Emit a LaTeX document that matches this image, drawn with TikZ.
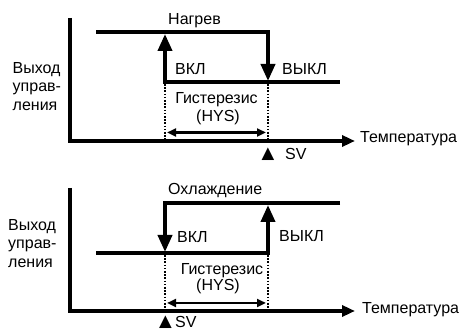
\documentclass[tikz,border=0pt]{standalone}
\usepackage{fontspec}
\setmainfont{Liberation Sans}
\newfontfamily\symfont{DejaVu Sans}
\usetikzlibrary{arrows.meta}
\begin{document}
\begin{tikzpicture}[x=1pt,y=-1pt,
  thickline/.style={line width=3.8pt},
  axisline/.style={line width=3.8pt,line join=miter,-{Triangle[length=13pt,width=11pt]}},
  bigarrow/.style={line width=3.8pt,line join=miter,-{Triangle[length=17pt,width=14pt]}},
  dotline/.style={line width=1.8pt,dash pattern=on 1.6pt off 1.6pt},
  hysarrow/.style={line width=2.4pt,{Triangle[length=9pt,width=8pt]}-{Triangle[length=9pt,width=8pt]}},
  lbl/.style={font=\fontsize{16}{18}\selectfont,inner sep=0pt,anchor=base west},
  clbl/.style={font=\fontsize{16}{18}\selectfont,inner sep=0pt,anchor=base},
  ylbl/.style={font=\fontsize{16}{18.5}\selectfont,inner sep=0pt,anchor=north west,align=left},
  tri/.style={font=\symfont\fontsize{16.5}{16.5}\selectfont,inner sep=0pt,anchor=base},
  ]
\useasboundingbox (0,0) rectangle (459,331);

% ---------- top diagram: heating ----------
\coordinate (yt1) at (70,18);
\coordinate (o1) at (70,141);
\coordinate (xe1) at (355,141);
\draw[axisline] (yt1) -- (o1) -- (xe1);
\node[lbl] (temp1) at (360,143) {Температура};

\coordinate (h1a) at (96,32);
\coordinate (h1b) at (268,32);
\coordinate (h1c) at (268,81);
\draw[bigarrow] (h1a) -- (h1b) -- (h1c);
\coordinate (l1a) at (165,82);
\coordinate (l1b) at (340,82);
\draw[thickline] (l1a) -- (l1b);
\coordinate (u1a) at (165,83.9);
\coordinate (u1b) at (165,34);
\draw[bigarrow] (u1a) -- (u1b);

\coordinate (d1a) at (165,84);
\coordinate (d1b) at (165,140);
\coordinate (d1c) at (268,84);
\coordinate (d1d) at (268,140);
\draw[dotline] (d1a) -- (d1b);
\draw[dotline] (d1c) -- (d1d);
\coordinate (ha1) at (167,132.5);
\coordinate (hb1) at (266,132.5);
\draw[hysarrow] (ha1) -- (hb1);

\node[lbl] (heat) at (168,24.5) {Нагрев};
\node[lbl] (on1) at (175,75) {ВКЛ};
\node[lbl] (off1) at (282,75) {ВЫКЛ};
\node[clbl] (gis1) at (216.5,104) {Гистерезис};
\node[clbl] (hys1) at (218,122) {(HYS)};
\node[ylbl] (out1) at (12.5,62) {Выход\\управ-\\ления};
\node[tri] (tr1) at (268,158.5) {▲};
\node[lbl] (sv1) at (285,160) {SV};

% ---------- bottom diagram: cooling ----------
\coordinate (yt2) at (70,188);
\coordinate (o2) at (70,311);
\coordinate (xe2) at (355,311);
\draw[axisline] (yt2) -- (o2) -- (xe2);
\node[lbl] (temp2) at (362,314) {Температура};

\coordinate (h2a) at (340,203);
\coordinate (h2b) at (165,203);
\coordinate (h2c) at (165,252);
\draw[bigarrow] (h2a) -- (h2b) -- (h2c);
\coordinate (l2a) at (96,253);
\coordinate (l2b) at (268,253);
\coordinate (l2c) at (268,205);
\draw[bigarrow] (l2a) -- (l2b) -- (l2c);

\coordinate (d2a) at (165,255);
\coordinate (d2b) at (165,310);
\coordinate (d2c) at (268,255);
\coordinate (d2d) at (268,310);
\draw[dotline] (d2a) -- (d2b);
\draw[dotline] (d2c) -- (d2d);
\coordinate (ha2) at (167,303);
\coordinate (hb2) at (266,303);
\draw[hysarrow] (ha2) -- (hb2);

\node[lbl] (cool) at (168,195) {Охлаждение};
\node[lbl] (on2) at (177,243) {ВКЛ};
\node[lbl] (off2) at (279,242) {ВЫКЛ};
\node[clbl] (gis2) at (222,275) {Гистерезис};
\node[clbl] (hys2) at (218,291) {(HYS)};
\node[ylbl] (out2) at (8,219) {Выход\\управ-\\ления};
\node[tri] (tr2) at (165.5,327) {▲};
\node[lbl] (sv2) at (175,328) {SV};
\end{tikzpicture}
\end{document}
